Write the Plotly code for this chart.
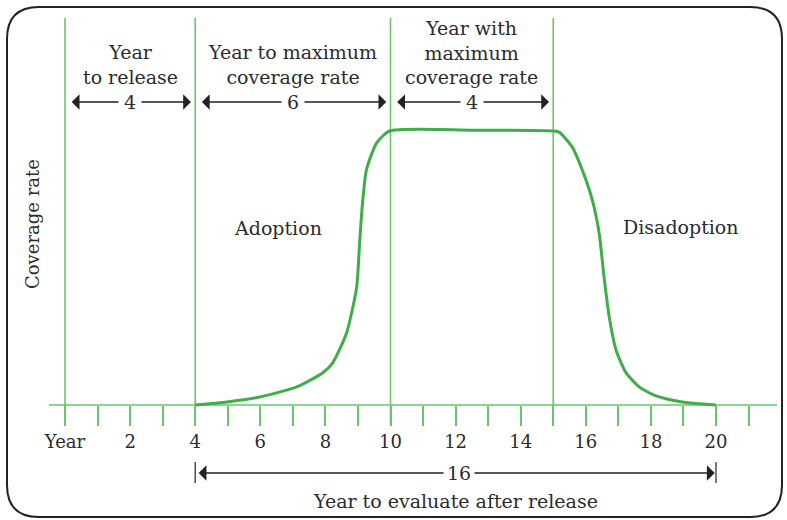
import plotly.graph_objects as go

# ---- data ----
curve_year = [4, 4.97, 5.98, 7.12, 7.91, 8.22, 8.65, 8.96, 9.05, 9.14, 9.26, 9.57, 9.97,
              12.5, 15, 15.18, 15.58, 15.89, 16.2, 16.41, 16.56, 16.72, 16.93, 17.24,
              17.64, 18.16, 18.96, 20]
curve_cov = [0, 1.1, 2.9, 6.6, 11.7, 15.3, 26.3, 43, 59, 73.7, 85.8, 95.6, 100,
             100.3, 100, 99.6, 94.2, 85.8, 74.8, 62.8, 46.7, 32.1, 20, 11.7,
             6.6, 3.3, 1.1, 0]
phase_bounds = [0, 4, 10, 15]
phase_titles = ["Year<br>to release", "Year to maximum<br>coverage rate",
                "Year with<br>maximum<br>coverage rate"]
phase_labels = ["4", "6", "4"]
tick_years = list(range(0, 22))
tick_text = ["Year" if y == 0 else (str(y) if y % 2 == 0 else "") for y in tick_years]
eval_span = [4, 20]
eval_label = "16"

GREEN = "#6cc46f"
CURVE = "#3fae49"
TXT = "#2b2b2b"
FONT = "DejaVu Serif"
FS = 19

W, H = 787, 520
PXY = 32.55   # px per year
PXC = 2.74    # px per coverage unit
X0PX, Y0PX = 65, 405
xr = [-X0PX / PXY, (W - X0PX) / PXY]
yr = [(Y0PX - H) / PXC, Y0PX / PXC]

def yv(py):
    return (Y0PX - py) / PXC

def xv(px):
    return (px - X0PX) / PXY

fig = go.Figure()

# vertical phase lines
for b in phase_bounds:
    fig.add_trace(go.Scatter(x=[b, b], y=[yv(18), yv(425)], mode="lines",
                             line=dict(color=GREEN, width=1.6), hoverinfo="skip"))
# baseline
fig.add_trace(go.Scatter(x=[xv(49), xv(777)], y=[0, 0], mode="lines",
                         line=dict(color=GREEN, width=1.6), hoverinfo="skip"))
# curve
fig.add_trace(go.Scatter(x=curve_year, y=curve_cov, mode="lines",
                         line=dict(color=CURVE, width=3, shape="spline", smoothing=0.6),
                         hoverinfo="skip"))

ann = []
yarrow = yv(102)
for i in range(3):
    a, b = phase_bounds[i], phase_bounds[i + 1]
    ann.append(dict(x=b - 0.13, y=yarrow, ax=a + 0.16, ay=yarrow, xref="x", yref="y",
                    axref="x", ayref="y", text="", showarrow=True, arrowhead=1,
                    arrowside="end+start", arrowsize=2.0, arrowwidth=1.3, arrowcolor="#222"))
    ann.append(dict(x=(a + b) / 2, y=yarrow, text=phase_labels[i], showarrow=False,
                    bgcolor="white", borderpad=5, font=dict(family=FONT, size=FS, color=TXT)))
    ann.append(dict(x=(a + b) / 2, y=yv(64) if i < 2 else yv(52), yanchor="middle",
                    text=phase_titles[i], showarrow=False,
                    font=dict(family=FONT, size=FS, color=TXT)))

# bottom evaluation arrow
ybot = yv(473)
ann.append(dict(x=eval_span[1] - 0.04, y=ybot, ax=eval_span[0] + 0.06, ay=ybot, xref="x", yref="y",
                axref="x", ayref="y", text="", showarrow=True, arrowhead=1,
                arrowside="end+start", arrowsize=2.0, arrowwidth=1.3, arrowcolor="#222"))
for e in eval_span:
    fig.add_trace(go.Scatter(x=[e, e], y=[yv(462), yv(483)], mode="lines",
                             line=dict(color="#222", width=1.2), hoverinfo="skip"))
ann.append(dict(x=(eval_span[0] + eval_span[1]) / 2 + 0.1, y=ybot, text=eval_label, showarrow=False,
                bgcolor="white", borderpad=3, font=dict(family=FONT, size=FS, color=TXT)))
ann.append(dict(x=(eval_span[0] + eval_span[1]) / 2, y=yv(501),
                text="Year to evaluate after release", showarrow=False,
                font=dict(family=FONT, size=FS, color=TXT)))

ann.append(dict(x=xv(278), y=yv(228), text="Adoption", showarrow=False,
                font=dict(family=FONT, size=FS, color=TXT)))
ann.append(dict(x=xv(681), y=yv(227), text="Disadoption", showarrow=False,
                font=dict(family=FONT, size=FS, color=TXT)))
ann.append(dict(x=xv(32), y=yv(224), text="Coverage rate", showarrow=False, textangle=-90,
                font=dict(family=FONT, size=18, color=TXT)))

for a in ann:
    a.setdefault("xref", "x")
    a.setdefault("yref", "y")

# rounded frame (decoration)
L, R, T, B, r = 7, 782, 7, 517, 32
def px(x): return x / W
def py(y): return 1 - y / H
path = (f"M {px(L)},{py(T + r)} Q {px(L)},{py(T)} {px(L + r)},{py(T)} "
        f"L {px(R - r)},{py(T)} Q {px(R)},{py(T)} {px(R)},{py(T + r)} "
        f"L {px(R)},{py(B - r)} Q {px(R)},{py(B)} {px(R - r)},{py(B)} "
        f"L {px(L + r)},{py(B)} Q {px(L)},{py(B)} {px(L)},{py(B - r)} Z")

fig.update_layout(
    width=W, height=H, margin=dict(l=0, r=0, t=0, b=0),
    paper_bgcolor="white", plot_bgcolor="white", showlegend=False,
    annotations=ann,
    shapes=[dict(type="path", path=path, xref="paper", yref="paper",
                 line=dict(color="#222", width=2))],
    xaxis=dict(range=xr, showgrid=False, zeroline=False, showline=False,
               tickmode="array", tickvals=tick_years, ticktext=tick_text,
               ticks="outside", ticklen=20, tickwidth=1.5, tickcolor=GREEN,
               tickfont=dict(family=FONT, size=18, color=TXT),
               anchor="free", position=1 - Y0PX / H),
    yaxis=dict(range=yr, visible=False, showgrid=False, zeroline=False),
)

fig.write_html("out.html", post_script="document.body.style.margin='0';",
               config={"displayModeBar": False})
